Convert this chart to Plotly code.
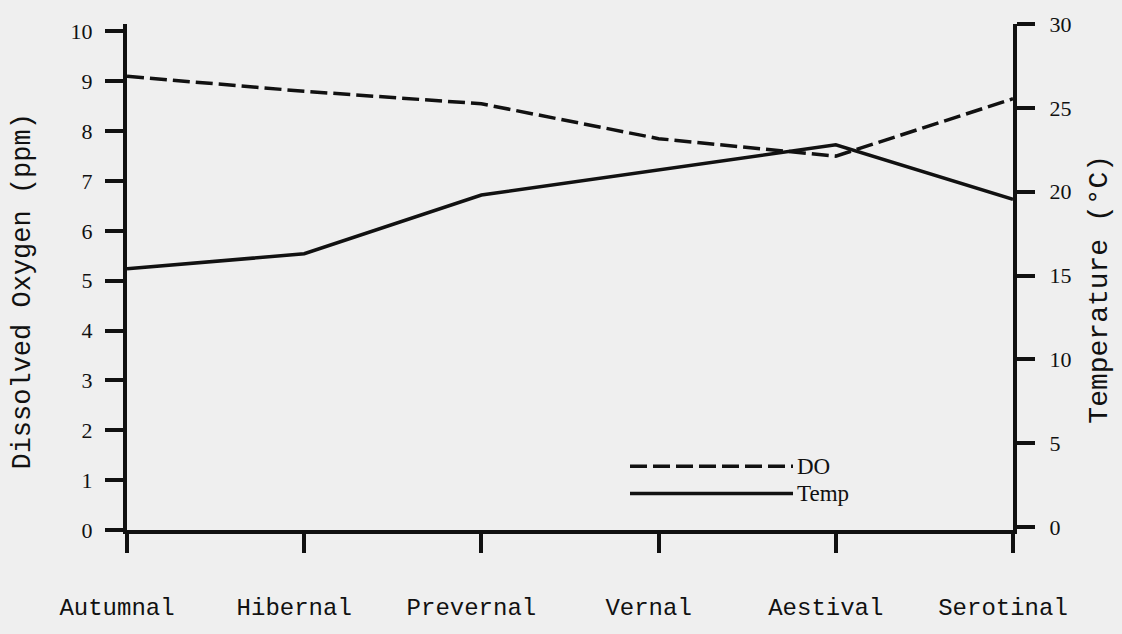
import plotly.graph_objects as go

# seasonal means
seasons = ["Autumnal", "Hibernal", "Prevernal", "Vernal", "Aestival", "Serotinal"]
do_ppm = [9.1, 8.8, 8.55, 7.85, 7.5, 8.65]
temp_c = [15.4, 16.3, 19.8, 21.3, 22.8, 19.55]

do_ticks = list(range(0, 11))
temp_ticks = list(range(0, 31, 5))

ink = "#111111"
paper = "#efefef"

W, H = 1122, 634
# plot area in pixels
L, R, T, B = 127, 1013, 17, 556


def px(x):
    return (x - L) / (R - L)


def py(y):
    return (B - y) / (B - T)


fig = go.Figure()

fig.add_trace(go.Scatter(
    x=seasons, y=do_ppm, name="DO", mode="lines",
    line=dict(color=ink, width=3.5, dash="17px,6px"),
))
fig.add_trace(go.Scatter(
    x=seasons, y=temp_c, name="Temp", mode="lines", yaxis="y2",
    line=dict(color=ink, width=3.5),
))

fig.update_layout(
    width=W, height=H,
    margin=dict(l=L, r=W - R, t=T, b=H - B),
    paper_bgcolor=paper, plot_bgcolor=paper,
    showlegend=False,
    xaxis=dict(
        type="category", categoryorder="array", categoryarray=seasons,
        range=[0, len(seasons) - 1],
        showgrid=False, zeroline=False,
        showline=True, linecolor=ink, linewidth=4,
        ticks="outside", ticklen=19, tickwidth=3.5, tickcolor=ink,
        ticklabelstandoff=33, ticklabelshift=-10,
        tickfont=dict(family="Liberation Mono", size=24, color=ink),
    ),
    yaxis=dict(
        range=[0, 10.15], tickvals=do_ticks,
        showgrid=False, zeroline=False,
        showline=True, linecolor=ink, linewidth=4,
        ticks="outside", ticklen=18, tickwidth=3.5, tickcolor=ink,
        ticklabelstandoff=8,
        tickfont=dict(family="Liberation Serif", size=22, color=ink),
    ),
    yaxis2=dict(
        overlaying="y", side="right",
        range=[-0.17, 30], tickvals=temp_ticks,
        showgrid=False, zeroline=False,
        showline=True, linecolor=ink, linewidth=4,
        ticks="outside", ticklen=18, tickwidth=3.5, tickcolor=ink,
        ticklabelstandoff=10,
        tickfont=dict(family="Liberation Serif", size=22, color=ink),
    ),
)

# axis titles
fig.add_annotation(
    text="Dissolved Oxygen (ppm)", textangle=-90,
    xref="paper", yref="paper", x=px(23), y=py(302),
    xanchor="center", yanchor="middle", showarrow=False,
    font=dict(family="Liberation Mono", size=27, color=ink),
)
fig.add_annotation(
    text="Temperature (°C)", textangle=-90,
    xref="paper", yref="paper", x=px(1100), y=py(300),
    xanchor="center", yanchor="middle", showarrow=False,
    font=dict(family="Liberation Mono", size=28, color=ink),
)

# legend drawn by hand, long sample lines like the original
for name, ypos, dash in [("DO", 488, "17px,6px"), ("Temp", 517, "solid")]:
    fig.add_shape(
        type="line", xref="paper", yref="paper",
        x0=px(630), x1=px(793), y0=py(ypos), y1=py(ypos),
        line=dict(color=ink, width=3.5, dash=dash),
    )
    fig.add_annotation(
        text=name, xref="paper", yref="paper", x=px(795), y=py(ypos),
        xanchor="left", yanchor="middle", showarrow=False,
        font=dict(family="Liberation Serif", size=23, color=ink),
    )

# drop the default page margin so the figure fills the window
page_css = (
    "document.body.style.margin='0';"
    "document.body.style.overflow='hidden';"
    "document.body.style.background='" + paper + "';"
)

fig.write_html("out.html", post_script=page_css,
               config={"displayModeBar": False})
